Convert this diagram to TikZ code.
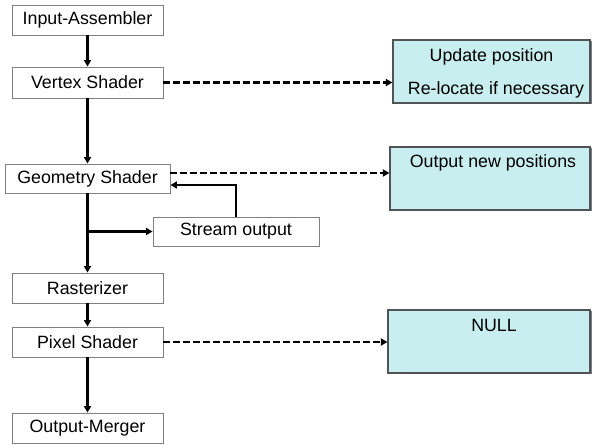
\documentclass[tikz,border=0pt]{standalone}
\usepackage{fontspec}
\setmainfont{Liberation Sans}
\usetikzlibrary{arrows.meta,calc}

\definecolor{stageline}{RGB}{128,128,128}
\definecolor{notefill}{RGB}{200,238,240}
\definecolor{noteline}{RGB}{80,84,86}
\definecolor{noteshade}{RGB}{120,124,126}

\tikzset{
  stage/.style={draw=stageline, line width=0.9pt, fill=white,
    minimum width=151pt, minimum height=30pt, inner sep=0pt,
    font=\fontsize{17.8pt}{21pt}\selectfont},
  notebox/.style={draw=noteline, line width=1.2pt, fill=notefill,
    inner sep=0pt, minimum height=63pt},
  notetext/.style={font=\fontsize{17.8pt}{21pt}\selectfont, inner sep=0pt},
  flow/.style={line width=2.2pt, -{Triangle[length=6.5pt,width=7pt]}},
  link/.style={line width=2.2pt, dash pattern=on 7pt off 3pt,
    -{Triangle[length=6.5pt,width=7pt]}},
}

\begin{document}
\begin{tikzpicture}[x=1pt,y=-1pt]
\useasboundingbox (0,0) rectangle (592,446);

% pipeline stages
\node[stage] (IA) at (87.5,20) {Input-Assembler};
\node[stage, minimum height=31pt] (VS) at (87.5,82.5) {Vertex Shader};
\node[stage, minimum width=165pt, minimum height=29pt] (GS) at (87.5,178.5) {Geometry Shader};
\node[stage, minimum width=166pt, minimum height=29pt] (SO) at (236,231.5) {Stream output};
\node[stage] (RA) at (87.5,288) {Rasterizer};
\node[stage] (PS) at (87.5,342) {Pixel Shader};
\node[stage] (OM) at (87.5,428) {Output-Merger};

% note boxes (with a slight lower shade)
\fill[noteshade] (394.5,41.5) rectangle (591.5,104.5);
\node[notebox, minimum width=197pt] (N1) at (491.5,71.5) {};
\fill[noteshade] (391.5,148.5) rectangle (591.5,211.5);
\node[notebox, minimum width=200pt] (N2) at (490,178.5) {};
\fill[noteshade] (389.5,311.5) rectangle (591.5,374.5);
\node[notebox, minimum width=202pt] (N3) at (489,341.5) {};

\node[notetext] (N1a) at (491.5,57) {Update position};
\node[notetext] (N1b) at (496,90) {Re-locate if necessary};
\node[notetext] (N2a) at (493,163) {Output new positions};
\node[notetext] (N3a) at (494,325) {NULL};

% main flow
\draw[flow] (IA) -- (VS);
\draw[flow] (VS) -- (GS);
\draw[flow] (GS) -- (RA);
\draw[flow] (RA) -- (PS);
\draw[flow] (PS) -- (OM);

% stream output branch and feedback
\coordinate (br) at (GS.south |- SO.west);
\draw[flow] (br) -- (SO.west);
\coordinate (fb) at ($(GS.east)+(0,6.5)$);
\draw[flow] (SO.north) |- (fb);

% links to notes
\coordinate (g1) at ($(GS.east)+(0,-5.5)$);
\draw[link] (VS.east) -- (VS.east -| N1.west);
\draw[link] (g1) -- (g1 -| N2.west);
\draw[link] (PS.east) -- (PS.east -| N3.west);
\end{tikzpicture}
\end{document}
